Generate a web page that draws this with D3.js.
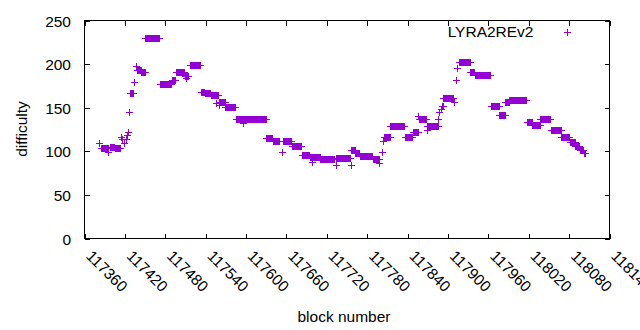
<!DOCTYPE html>
<html>
<head>
<meta charset="utf-8">
<script src="https://cdn.jsdelivr.net/npm/d3@7/dist/d3.min.js"></script>
<style>
  html, body { margin: 0; padding: 0; background: #fff; }
  svg { display: block; }
  text { font-family: "Liberation Sans", Arial, sans-serif; fill: #000; }
</style>
</head>
<body>
<svg id="chart" width="640" height="330"></svg>
<script>
// Data: runs of consecutive blocks sharing one difficulty value
const runStart = [117382,117385,117396,117398,117406,117415,117417,117420,117422,117424,117426,117427,117428,117435,117437,117438,117445,117451,117473,117490,117497,117510,117512,117517,117534,117540,117548,117556,117560,117561,117570,117586,117596,117631,117641,117654,117656,117669,117684,117696,117698,117711,117734,117735,117756,117757,117763,117770,117789,117799,117802,117804,117806,117815,117837,117849,117856,117857,117869,117870,117886,117888,117890,117892,117894,117909,117913,117914,117917,117934,117941,117964,117977,117986,117992,118018,118026,118038,118054,118069,118082,118090,118097,118103];
const runEnd   = [117382,117395,117396,117405,117413,117415,117417,117420,117422,117424,117426,117427,117433,117435,117437,117444,117450,117472,117489,117495,117509,117514,117512,117533,117539,117547,117559,117556,117560,117569,117585,117630,117596,117640,117650,117654,117668,117683,117695,117710,117698,117732,117734,117755,117756,117762,117769,117788,117798,117799,117802,117804,117814,117836,117848,117856,117856,117868,117869,117886,117886,117888,117890,117893,117908,117909,117913,117914,117933,117940,117963,117977,117985,117991,118017,118025,118037,118052,118068,118081,118089,118096,118102,118104];
const runDiff  = [109,103,99,104,103,116,113,109,114,118,121,145,166,179,197,193,190,229,177,181,190,186,183,198,168,166,164,155,153,156,150,137,132,115,111,99,111,105,95,93,87,91,84,92,84,101,97,94,91,86,99,111,116,128,116,122,140,136,124,128,136,144,148,151,160,156,181,195,202,190,187,151,141,156,158,133,130,136,124,116,110,105,101,98];

const xTicks = [117360,117420,117480,117540,117600,117660,117720,117780,117840,117900,117960,118020,118080,118140];
const yTicks = [0,50,100,150,200,250];
const seriesName = "LYRA2REv2";
const xTitle = "block number";
const yTitle = "difficulty";

// expand runs into one point per block
const points = [];
runStart.forEach((s, i) => {
  for (let b = s; b <= runEnd[i]; b++) points.push({block: b, diff: runDiff[i]});
});

const pLeft = 84.5, pRight = 609.5, pTop = 20.5, pBottom = 238.5;
const color = "#9400D3";
const fs = 15.5;
const tick = 5;
const arm = 3.5;

const svg = d3.select("#chart");
const x = d3.scaleLinear().domain([117360, 118140]).range([pLeft, pRight]);
const y = d3.scaleLinear().domain([0, 250]).range([pBottom, pTop]);

// axes (inward ticks, mirrored)
const gx = svg.append("g").attr("transform", `translate(0,${pBottom})`)
  .call(d3.axisBottom(x).tickValues(xTicks).tickSize(-tick).tickSizeOuter(0).tickFormat(d3.format("d")));
gx.selectAll("text")
  .attr("x", 0).attr("y", 0).attr("dy", 0)
  .attr("text-anchor", "start")
  .attr("transform", "translate(0.3,18.5) rotate(45)");
const gxt = svg.append("g").attr("transform", `translate(0,${pTop})`)
  .call(d3.axisTop(x).tickValues(xTicks).tickSize(-tick).tickSizeOuter(0).tickFormat(""));
const gy = svg.append("g").attr("transform", `translate(${pLeft},0)`)
  .call(d3.axisLeft(y).tickValues(yTicks).tickSize(-tick).tickSizeOuter(0));
gy.selectAll("text").attr("dy", "0.36em").attr("x", -13.5).attr("text-anchor", "end");
const gyr = svg.append("g").attr("transform", `translate(${pRight},0)`)
  .call(d3.axisRight(y).tickValues(yTicks).tickSize(-tick).tickSizeOuter(0).tickFormat(""));

[gx, gxt, gy, gyr].forEach(g => {
  g.select(".domain").remove();
  g.selectAll("line").attr("stroke", "#000").attr("shape-rendering", "crispEdges");
  g.selectAll("text").attr("font-size", fs).attr("font-family", '"Liberation Sans", Arial, sans-serif').attr("fill", "#000");
});

// frame
svg.append("rect")
  .attr("x", pLeft).attr("y", pTop).attr("width", pRight - pLeft).attr("height", pBottom - pTop)
  .attr("fill", "none").attr("stroke", "#000").attr("stroke-width", 1)
  .attr("shape-rendering", "crispEdges");

// points
const plusPath = (cx, cy) => `M${cx - arm},${cy}H${cx + arm}M${cx},${cy - arm}V${cy + arm}`;
svg.append("g").selectAll("path").data(points).join("path")
  .attr("d", d => plusPath(x(d.block), y(d.diff)))
  .attr("stroke", color).attr("stroke-width", 1).attr("fill", "none")
  .attr("shape-rendering", "crispEdges");

// legend
svg.append("text").attr("x", 533.5).attr("y", 37.3).attr("text-anchor", "end")
  .attr("font-size", fs).text(seriesName);
svg.append("path").attr("d", plusPath(567.5, 32.5))
  .attr("stroke", color).attr("stroke-width", 1).attr("fill", "none")
  .attr("shape-rendering", "crispEdges");

// titles
svg.append("text").attr("x", 344).attr("y", 321.5).attr("text-anchor", "middle")
  .attr("font-size", fs).text(xTitle);
svg.append("text").attr("transform", "translate(27,129) rotate(-90)").attr("text-anchor", "middle")
  .attr("font-size", fs).text(yTitle);
</script>
</body>
</html>
